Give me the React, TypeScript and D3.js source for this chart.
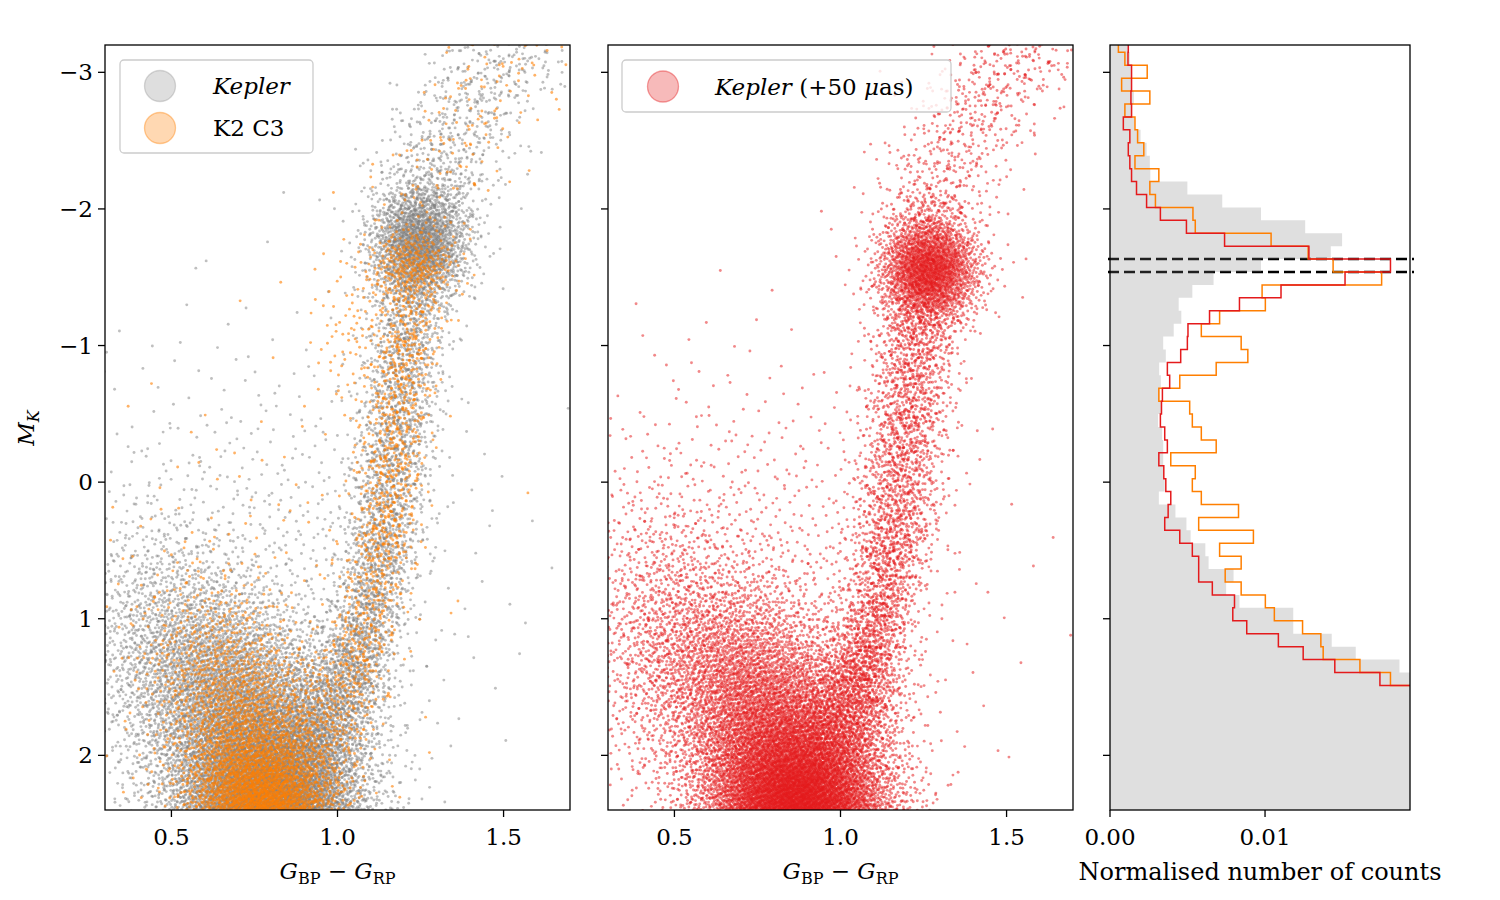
import React, { useMemo } from "react";
import * as d3 from "d3";

// ---------------- data ----------------
const COLOR_TICKS = [0.5, 1.0, 1.5];
const COLOR_TICK_LABELS = ["0.5", "1.0", "1.5"];
const MK_TICKS = [-3, -2, -1, 0, 1, 2];
const MK_TICK_LABELS = ["\u22123", "\u22122", "\u22121", "0", "1", "2"];
const COUNT_TICKS = [0, 0.01];
const COUNT_TICK_LABELS = ["0.00", "0.01"];
const COLOR_DOMAIN = [0.3, 1.7];
const MK_DOMAIN = [-3.2, 2.4];
const COUNT_DOMAIN = [0, 0.01935];

// histogram bins in M_K (normalised counts in units of 1e-3)
const BIN_START = -3.2407;
const BIN_WIDTH = 0.09457;
const COUNT_UNIT = 1e-3;
const GRAY_HIST = [
  1.2, 1.28, 1.35, 1.39, 1.54, 1.43, 1.55, 1.97, 2.36, 2.57,
  2.6, 4.99, 7.24, 9.74, 12.59, 14.97, 14.24, 9.74, 6.68, 5.31,
  4.43, 4.6, 4.11, 3.43, 3.6, 3.17, 3.28, 3.2, 3.36, 3.1,
  3.36, 3.43, 3.43, 3.43, 3.53, 3.15, 4.22, 4.93, 5.2, 6.15,
  6.36, 7.97, 7.49, 8.35, 11.82, 11.82, 14.3, 15.85, 18.67, 20.0,
  21.5, 23.0, 25.0, 27.0, 29.0, 31.0, 32.5, 34.0, 35.0, 36.0,
];
const RED_HIST = [
  1.18, 1.16, 1.39, 1.39, 1.35, 1.39, 0.86, 1.28, 1.18, 1.28,
  1.39, 1.71, 2.36, 3.25, 4.93, 7.39, 12.83, 18.09, 15.16, 11.03,
  8.35, 6.42, 5.03, 4.99, 4.56, 3.7, 3.85, 3.38, 3.32, 3.25,
  3.53, 3.7, 3.15, 3.47, 3.6, 3.92, 3.75, 3.53, 4.5, 5.31,
  5.72, 5.72, 6.6, 8.03, 7.92, 8.82, 10.86, 12.46, 14.5, 17.41,
  20.5, 22.0, 24.0, 26.0, 28.0, 30.0, 31.5, 33.0, 34.0, 35.0,
];
const ORANGE_HIST = [
  0.54, 0.96, 2.4, 0.75, 2.57, 0.96, 1.61, 1.78, 2.18, 1.61,
  3.15, 2.57, 2.93, 5.35, 5.5, 10.39, 12.78, 14.39, 17.52, 9.81,
  10.02, 7.07, 5.89, 8.46, 8.89, 6.85, 4.5, 3.15, 5.14, 5.31,
  5.89, 6.85, 3.92, 5.5, 5.31, 5.89, 8.29, 5.72, 9.25, 7.07,
  8.46, 7.43, 8.46, 10.02, 10.6, 12.42, 13.6, 13.75, 16.12, 18.09,
  20.0, 22.5, 24.5, 26.5, 28.5, 30.5, 32.0, 33.5, 34.5, 35.5,
];
const CLUMP_BOUNDS = [-1.633, -1.538];

// scatter density
// blobs: [colour centre, M_K centre, colour sd, M_K sd, correlation, count]
// tracks: [colour start, M_K start, colour end, M_K end, colour sd, M_K sd, count]
const KEPLER_BLOBS = [
  [0.8, 2.6, 0.15, 0.45, 0.2, 11000],
  [0.7, 1.65, 0.18, 0.5, 0.4, 5000],
  [0.95, 1.85, 0.09, 0.35, -0.3, 1200],
  [0.45, 1.2, 0.12, 0.6, 0.0, 500],
  [0.8, 0.7, 0.3, 0.9, 0.0, 700],
  [1.25, -1.74, 0.075, 0.2, 0.0, 1500],
  [1.28, -2.0, 0.09, 0.3, -0.3, 300],
];
const KEPLER_TRACKS = [
  [1.03, 1.6, 1.13, 0.6, 0.055, 0.15, 900],
  [1.13, 0.6, 1.22, -1.3, 0.06, 0.1, 1500],
  [1.22, -1.3, 1.25, -2.1, 0.065, 0.1, 600],
  [1.25, -2.1, 1.4, -2.8, 0.1, 0.15, 300],
  [1.4, -2.8, 1.58, -3.3, 0.1, 0.15, 250],
];
const K2_BLOBS = [
  [0.78, 2.5, 0.11, 0.35, 0.2, 4500],
  [0.72, 1.7, 0.14, 0.45, 0.4, 1500],
  [0.95, 1.85, 0.08, 0.3, -0.3, 250],
  [0.75, 0.8, 0.28, 0.8, 0.0, 150],
  [1.23, -1.58, 0.065, 0.15, 0.0, 350],
  [1.05, -1.1, 0.07, 0.35, 0.0, 100],
];
const K2_TRACKS = [
  [1.03, 1.6, 1.13, 0.6, 0.05, 0.15, 300],
  [1.13, 0.6, 1.22, -1.3, 0.05, 0.1, 700],
  [1.25, -2.0, 1.55, -3.3, 0.1, 0.15, 150],
];
const SHIFTED_BLOBS = [
  [0.88, 2.55, 0.14, 0.4, 0.2, 13500],
  [0.78, 1.7, 0.18, 0.5, 0.4, 5500],
  [1.0, 1.8, 0.09, 0.35, -0.3, 1300],
  [0.45, 1.1, 0.12, 0.6, 0.0, 700],
  [0.72, 0.9, 0.3, 0.85, 0.0, 1000],
  [1.27, -1.55, 0.075, 0.19, 0.0, 2100],
];
const SHIFTED_TRACKS = [
  [1.05, 1.6, 1.15, 0.6, 0.055, 0.15, 1000],
  [1.15, 0.6, 1.24, -1.3, 0.065, 0.1, 1800],
  [1.24, -1.3, 1.27, -2.1, 0.07, 0.1, 500],
  [1.27, -2.1, 1.42, -2.8, 0.1, 0.15, 320],
  [1.42, -2.8, 1.6, -3.3, 0.1, 0.15, 260],
];

// ---------------- helpers ----------------
function halton(i: number, b: number) {
  let f = 1, r = 0;
  while (i > 0) {
    f /= b;
    r += f * (i % b);
    i = Math.floor(i / b);
  }
  return r;
}
function invNorm(p: number) {
  const a = [-39.69683028665376, 220.9460984245205, -275.9285104469687, 138.357751867269, -30.66479806614716, 2.506628277459239];
  const b = [-54.47609879822406, 161.5858368580409, -155.6989798598866, 66.80131188771972, -13.28068155288572];
  const c = [-0.007784894002430293, -0.3223964580411365, -2.400758277161838, -2.549732539343734, 4.374664141464968, 2.938163982698783];
  const d = [0.007784695709041462, 0.3224671290700398, 2.445134137142996, 3.754408661907416];
  const pl = 0.02425;
  p = Math.min(Math.max(p, 1e-9), 1 - 1e-9);
  if (p < pl) {
    const q = Math.sqrt(-2 * Math.log(p));
    return (((((c[0] * q + c[1]) * q + c[2]) * q + c[3]) * q + c[4]) * q + c[5]) / ((((d[0] * q + d[1]) * q + d[2]) * q + d[3]) * q + 1);
  }
  if (p > 1 - pl) {
    const q = Math.sqrt(-2 * Math.log(1 - p));
    return -(((((c[0] * q + c[1]) * q + c[2]) * q + c[3]) * q + c[4]) * q + c[5]) / ((((d[0] * q + d[1]) * q + d[2]) * q + d[3]) * q + 1);
  }
  const q = p - 0.5, r = q * q;
  return ((((((a[0] * r + a[1]) * r + a[2]) * r + a[3]) * r + a[4]) * r + a[5]) * q) / (((((b[0] * r + b[1]) * r + b[2]) * r + b[3]) * r + b[4]) * r + 1);
}
function buildCloud(blobs: number[][], tracks: number[][], start: number) {
  const pts: [number, number][] = [];
  let idx = start;
  for (const [cx, cm, sx, sm, rho, n] of blobs) {
    const k2 = Math.sqrt(1 - rho * rho);
    for (let k = 0; k < n; k++, idx++) {
      const z1 = invNorm(halton(idx, 2));
      const z2 = invNorm(halton(idx, 3));
      pts.push([cx + sx * z1, cm + sm * (rho * z1 + k2 * z2)]);
    }
  }
  for (const [c1, m1, c2, m2, sx, sm, n] of tracks) {
    for (let k = 0; k < n; k++, idx++) {
      const t = halton(idx, 2);
      const z = invNorm(halton(idx, 3));
      const zm = invNorm(halton(idx, 5));
      pts.push([c1 + (c2 - c1) * t + sx * z, m1 + (m2 - m1) * t + sm * zm]);
    }
  }
  return pts.filter(
    ([c, m]) => c > COLOR_DOMAIN[0] - 0.01 && c < COLOR_DOMAIN[1] + 0.01 && m > MK_DOMAIN[0] - 0.02 && m < MK_DOMAIN[1] + 0.02
  );
}

// ---------------- layout ----------------
const TOP = 45, BOTTOM = 810;
const P1 = [105, 570], P2 = [608, 1073], P3 = [1110, 1410];
const FONT = "'DejaVu Serif', serif";
const FS = 23;
const TICK = 7;
const DOT = 1.45;
const RED = "#e41a1c", ORANGE = "#ff7f00";

export default function App() {
  const yM = d3.scaleLinear().domain(MK_DOMAIN).range([TOP, BOTTOM]);
  const x1 = d3.scaleLinear().domain(COLOR_DOMAIN).range(P1);
  const x2 = d3.scaleLinear().domain(COLOR_DOMAIN).range(P2);
  const xN = d3.scaleLinear().domain(COUNT_DOMAIN).range(P3);

  const kepler = useMemo(() => buildCloud(KEPLER_BLOBS, KEPLER_TRACKS, 1), []);
  const k2 = useMemo(() => buildCloud(K2_BLOBS, K2_TRACKS, 70001), []);
  const shifted = useMemo(() => buildCloud(SHIFTED_BLOBS, SHIFTED_TRACKS, 150001), []);

  const stepPts = (vals: number[]) => {
    const pts: [number, number][] = [[0, BIN_START]];
    vals.forEach((v, i) => {
      const a = BIN_START + i * BIN_WIDTH;
      pts.push([v * COUNT_UNIT, a], [v * COUNT_UNIT, a + BIN_WIDTH]);
    });
    pts.push([0, BIN_START + vals.length * BIN_WIDTH]);
    return pts;
  };
  const line = d3.line<[number, number]>().x((d) => xN(d[0])).y((d) => yM(d[1]));

  const yTicks = (x0: number, labels: boolean) => (
    <g>
      {MK_TICKS.map((t, i) => (
        <g key={t}>
          <line x1={x0 - TICK} x2={x0} y1={yM(t)} y2={yM(t)} stroke="#000" strokeWidth={1.3} />
          {labels && (
            <text x={x0 - TICK - 5} y={yM(t) + 8} textAnchor="end" fontSize={FS}>
              {MK_TICK_LABELS[i]}
            </text>
          )}
        </g>
      ))}
    </g>
  );
  const xTicks = (scale: d3.ScaleLinear<number, number>, ticks: number[], labels: string[]) => (
    <g>
      {ticks.map((t, i) => (
        <g key={t}>
          <line x1={scale(t)} x2={scale(t)} y1={BOTTOM} y2={BOTTOM + TICK} stroke="#000" strokeWidth={1.3} />
          <text x={scale(t)} y={845} textAnchor="middle" fontSize={FS}>
            {labels[i]}
          </text>
        </g>
      ))}
    </g>
  );
  const colourLabel = (cx: number) => (
    <text x={cx} y={879} textAnchor="middle" fontSize={FS}>
      <tspan fontStyle="italic">G</tspan>
      <tspan fontSize={16} dy={5}>BP</tspan>
      <tspan dy={-5}> {"\u2212"} </tspan>
      <tspan fontStyle="italic">G</tspan>
      <tspan fontSize={16} dy={5}>RP</tspan>
    </text>
  );
  const frame = (xr: number[]) => (
    <rect x={xr[0]} y={TOP} width={xr[1] - xr[0]} height={BOTTOM - TOP} fill="none" stroke="#000" strokeWidth={1.3} />
  );

  return (
    <svg
      width={1500}
      height={900}
      style={{ position: "absolute", left: 0, top: 0, background: "#fff" }}
      fontFamily={FONT}
    >
      <defs>
        <clipPath id="c1"><rect x={P1[0]} y={TOP} width={P1[1] - P1[0]} height={BOTTOM - TOP} /></clipPath>
        <clipPath id="c2"><rect x={P2[0]} y={TOP} width={P2[1] - P2[0]} height={BOTTOM - TOP} /></clipPath>
        <clipPath id="c3"><rect x={P3[0]} y={TOP} width={P3[1] - P3[0]} height={BOTTOM - TOP} /></clipPath>
      </defs>
      <rect x={0} y={0} width={1500} height={900} fill="#fff" />

      {/* Panel 1 */}
      <g clipPath="url(#c1)">
        <g fill="#808080" fillOpacity={0.5}>
          {kepler.map((p, i) => (
            <circle key={i} cx={x1(p[0])} cy={yM(p[1])} r={DOT} />
          ))}
        </g>
        <g fill={ORANGE} fillOpacity={0.6}>
          {k2.map((p, i) => (
            <circle key={i} cx={x1(p[0])} cy={yM(p[1])} r={DOT} />
          ))}
        </g>
      </g>
      {frame(P1)}
      {yTicks(P1[0], true)}
      {xTicks(x1, COLOR_TICKS, COLOR_TICK_LABELS)}
      {colourLabel((P1[0] + P1[1]) / 2)}
      <text transform={`translate(34,428) rotate(-90)`} textAnchor="middle" fontSize={FS}>
        <tspan fontStyle="italic">M</tspan>
        <tspan fontStyle="italic" fontSize={16} dy={5}>K</tspan>
      </text>
      {/* legend 1 */}
      <rect x={120} y={60} width={193} height={93} rx={4} fill="#fff" fillOpacity={0.8} stroke="#cccccc" strokeWidth={1.3} />
      <circle cx={160} cy={86} r={15.5} fill="#808080" fillOpacity={0.26} stroke="#808080" strokeOpacity={0.3} strokeWidth={1.3} />
      <circle cx={160} cy={128} r={15.5} fill={ORANGE} fillOpacity={0.3} stroke={ORANGE} strokeOpacity={0.4} strokeWidth={1.3} />
      <text x={213} y={94} fontSize={FS} fontStyle="italic">Kepler</text>
      <text x={213} y={136} fontSize={FS}>K2 C3</text>

      {/* Panel 2 */}
      <g clipPath="url(#c2)">
        <g fill={RED} fillOpacity={0.52}>
          {shifted.map((p, i) => (
            <circle key={i} cx={x2(p[0])} cy={yM(p[1])} r={DOT} />
          ))}
        </g>
      </g>
      {frame(P2)}
      {yTicks(P2[0], false)}
      {xTicks(x2, COLOR_TICKS, COLOR_TICK_LABELS)}
      {colourLabel((P2[0] + P2[1]) / 2)}
      <rect x={622} y={60} width={329} height={52} rx={4} fill="#fff" fillOpacity={0.8} stroke="#cccccc" strokeWidth={1.3} />
      <circle cx={663} cy={86.5} r={15.5} fill={RED} fillOpacity={0.3} stroke={RED} strokeOpacity={0.4} strokeWidth={1.3} />
      <text x={715} y={95} fontSize={FS}>
        <tspan fontStyle="italic">Kepler</tspan>
        <tspan> (+50 </tspan>
        <tspan fontStyle="italic">{"\u03bc"}</tspan>
        <tspan>as)</tspan>
      </text>

      {/* Panel 3 */}
      {CLUMP_BOUNDS.map((m) => (
        <line key={m} x1={P3[0] - 2} x2={P3[1] + 4} y1={yM(m)} y2={yM(m)} stroke="#000" strokeWidth={2.6} strokeDasharray="11,5" />
      ))}
      <g clipPath="url(#c3)">
        <path d={line(stepPts(GRAY_HIST)) + "Z"} fill="#808080" fillOpacity={0.25} stroke="none" />
        <path d={line(stepPts(ORANGE_HIST)) || ""} fill="none" stroke={ORANGE} strokeWidth={1.5} />
        <path d={line(stepPts(RED_HIST)) || ""} fill="none" stroke={RED} strokeWidth={1.5} />
      </g>
      {frame(P3)}
      {yTicks(P3[0], false)}
      {xTicks(xN, COUNT_TICKS, COUNT_TICK_LABELS)}
      <text x={(P3[0] + P3[1]) / 2} y={880} textAnchor="middle" fontSize={FS + 1}>
        Normalised number of counts
      </text>
    </svg>
  );
}
